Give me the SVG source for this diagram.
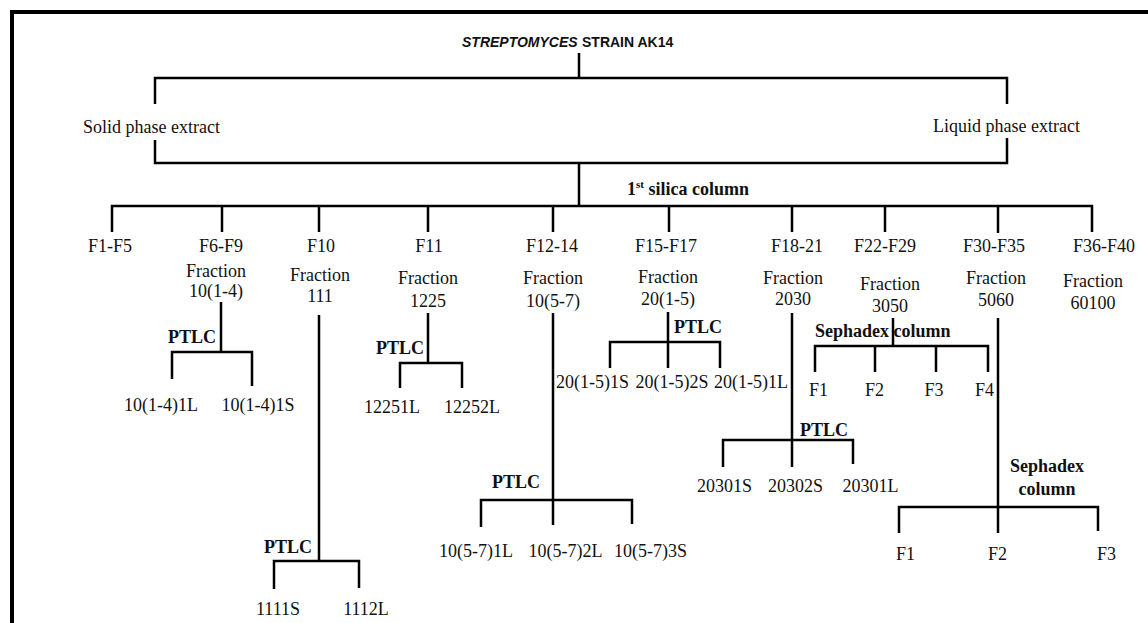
<svg xmlns="http://www.w3.org/2000/svg" width="1148" height="623" viewBox="0 0 1148 623">
<style>
.t{font-family:"Liberation Serif","Times New Roman",serif;font-size:18px;fill:#111}
.c{text-anchor:middle}
.b{font-weight:bold}
.ttl{font-family:"Liberation Sans",Arial,sans-serif;font-size:14px;font-weight:bold;fill:#111}
.it{font-style:italic}
.ln{fill:none;stroke:#000;stroke-width:2.5;stroke-linejoin:miter}
</style>
<rect width="1148" height="623" fill="#fff"/>
<path d="M12,640 V12 H1160" fill="none" stroke="#000" stroke-width="4"/>
<g id="connectors" class="ln">
<path d="M579,53 V78 M155,104 V78 H1007 V104"/>
<path d="M155,140 V163 H1007 V138 M579,163 V206"/>
<path d="M112,232 V206 H1092 V232 M222,206 V232 M319,206 V232 M428,206 V232 M553,206 V232 M669,206 V232 M792,206 V232 M885,206 V232 M998,206 V233"/>
<path d="M221,302 V352 M172,379 V352 H252 V386"/>
<path d="M319,315 V561 M274,589 V561 H359 V588"/>
<path d="M428,313 V363 M400,388 V363 H462 V388"/>
<path d="M553,313 V525 M481,527 V500 H632 V524"/>
<path d="M668,312 V368 M610,368 V342 H720 V368"/>
<path d="M792,313 V467 M723,467 V440 H853 V464"/>
<path d="M893,318 V346 M815,372 V346 H988 V372 M875,346 V372 M936,346 V372"/>
<path d="M998,318 V533 M899,533 V507 H1098 V531"/>
</g>
<g id="root"><text class="ttl it" x="462" y="47">STREPTOMYCES</text><text class="ttl" x="582" y="47">STRAIN AK14</text></g>
<g id="solid"><text class="t" x="83" y="133">Solid phase extract</text></g>
<g id="liquid"><text class="t" x="933" y="132">Liquid phase extract</text></g>
<g id="silica"><text class="t b" x="627" y="195">1<tspan font-size="11" dy="-7">st</tspan><tspan dy="7"> silica column</tspan></text></g>
<g id="f1f5"><text class="t c" x="110" y="252">F1-F5</text></g>
<g id="f6f9"><text class="t c" x="221" y="252">F6-F9</text><text class="t c" x="216" y="277">Fraction</text><text class="t c" x="216" y="297">10(1-4)</text></g>
<g id="f10"><text class="t c" x="321" y="252">F10</text><text class="t c" x="320" y="281">Fraction</text><text class="t c" x="320" y="302">111</text></g>
<g id="f11"><text class="t c" x="429" y="252">F11</text><text class="t c" x="428" y="284">Fraction</text><text class="t c" x="428" y="307">1225</text></g>
<g id="f12"><text class="t c" x="552" y="252">F12-14</text><text class="t c" x="553" y="284">Fraction</text><text class="t c" x="553" y="307">10(5-7)</text></g>
<g id="f15"><text class="t c" x="666" y="252">F15-F17</text><text class="t c" x="668" y="283">Fraction</text><text class="t c" x="668" y="305">20(1-5)</text></g>
<g id="f18"><text class="t c" x="797" y="252">F18-21</text><text class="t c" x="793" y="284">Fraction</text><text class="t c" x="793" y="305">2030</text></g>
<g id="f22"><text class="t c" x="885" y="252">F22-F29</text><text class="t c" x="890" y="290">Fraction</text><text class="t c" x="890" y="312">3050</text></g>
<g id="f30"><text class="t c" x="994" y="252">F30-F35</text><text class="t c" x="996" y="284">Fraction</text><text class="t c" x="996" y="306">5060</text></g>
<g id="f36"><text class="t c" x="1104" y="252">F36-F40</text><text class="t c" x="1093" y="287">Fraction</text><text class="t c" x="1093" y="309">60100</text></g>
<g id="f6sub"><text class="t b" x="168" y="343">PTLC</text><text class="t c" x="161" y="411">10(1-4)1L</text><text class="t c" x="258" y="411">10(1-4)1S</text></g>
<g id="f10sub"><text class="t b" x="264" y="553">PTLC</text><text class="t c" x="278" y="615">1111S</text><text class="t c" x="366" y="615">1112L</text></g>
<g id="f11sub"><text class="t b" x="376" y="354">PTLC</text><text class="t c" x="392" y="413">12251L</text><text class="t c" x="472" y="413">12252L</text></g>
<g id="f12sub"><text class="t b" x="492" y="488">PTLC</text><text class="t c" x="476" y="557">10(5-7)1L</text><text class="t c" x="565.5" y="557">10(5-7)2L</text><text class="t c" x="650.5" y="557">10(5-7)3S</text></g>
<g id="f15sub"><text class="t b" x="674" y="333">PTLC</text><text class="t c" x="592.5" y="388">20(1-5)1S</text><text class="t c" x="672" y="388">20(1-5)2S</text><text class="t c" x="751" y="388">20(1-5)1L</text></g>
<g id="f18sub"><text class="t b" x="800" y="436">PTLC</text><text class="t c" x="724.5" y="492">20301S</text><text class="t c" x="795.5" y="492">20302S</text><text class="t c" x="870.5" y="492">20301L</text></g>
<g id="f22sub"><text class="t b" x="815" y="337">Sephadex column</text><text class="t c" x="818.5" y="396">F1</text><text class="t c" x="874.5" y="396">F2</text><text class="t c" x="934" y="396">F3</text><text class="t c" x="984.5" y="396">F4</text></g>
<g id="f30sub"><text class="t b c" x="1047" y="472">Sephadex</text><text class="t b c" x="1047" y="495">column</text><text class="t c" x="905.5" y="560">F1</text><text class="t c" x="997.5" y="560">F2</text><text class="t c" x="1106.5" y="560">F3</text></g>
</svg>
